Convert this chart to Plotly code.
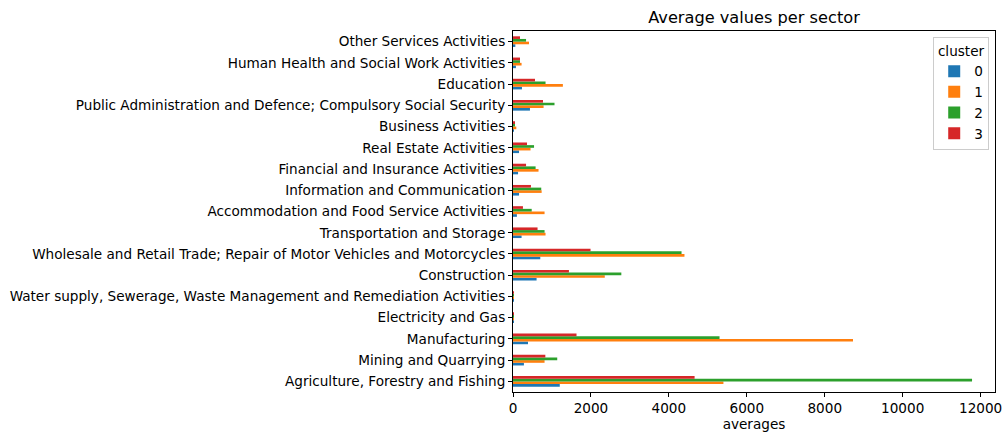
import plotly.graph_objects as go

sectors = [
    "Agriculture, Forestry and Fishing",
    "Mining and Quarrying",
    "Manufacturing",
    "Electricity and Gas",
    "Water supply, Sewerage, Waste Management and Remediation Activities",
    "Construction",
    "Wholesale and Retail Trade; Repair of Motor Vehicles and Motorcycles",
    "Transportation and Storage",
    "Accommodation and Food Service Activities",
    "Information and Communication",
    "Financial and Insurance Activities",
    "Real Estate Activities",
    "Business Activities",
    "Public Administration and Defence; Compulsory Social Security",
    "Education",
    "Human Health and Social Work Activities",
    "Other Services Activities",
]

cluster_0 = [1200, 280, 385, 2, 2, 605, 700, 220, 100, 155, 130, 155, 5, 435, 230, 75, 60]
cluster_1 = [5400, 810, 8725, 3, 3, 2355, 4400, 835, 810, 735, 655, 450, 85, 785, 1280, 220, 410]
cluster_2 = [11780, 1135, 5300, 2, 2, 2780, 4325, 810, 480, 725, 580, 540, 50, 1065, 835, 180, 335]
cluster_3 = [4660, 830, 1630, 2, 2, 1435, 1990, 630, 255, 460, 335, 360, 35, 770, 565, 180, 180]

cluster_names = ["0", "1", "2", "3"]
series = [cluster_0, cluster_1, cluster_2, cluster_3]
colors = ["#1f77b4", "#ff7f0e", "#2ca02c", "#d62728"]
x_ticks = [0, 2000, 4000, 6000, 8000, 10000, 12000]

FONT = "DejaVu Sans"
FS = 13.6

fig = go.Figure()
for name, vals, col in zip(cluster_names, series, colors):
    fig.add_trace(go.Bar(
        y=sectors, x=vals, name=name, orientation="h",
        marker=dict(color=col, line=dict(width=0)),
    ))

xmax = max(max(s) for s in series) * 1.05

fig.update_layout(
    width=1003, height=434,
    margin=dict(l=513, r=8, t=31, b=42, autoexpand=False),
    paper_bgcolor="white", plot_bgcolor="white",
    barmode="group", bargap=0.5, bargroupgap=0,
    font=dict(family=FONT, size=FS, color="black"),
    title=dict(text="Average values per sector", xref="paper", x=0.5, xanchor="center",
               yref="container", y=0.961, yanchor="middle",
               font=dict(size=16.2, family=FONT, color="black")),
    legend=dict(
        title=dict(text="cluster", side="top center", font=dict(size=FS)),
        x=0.988, xanchor="right", y=0.983, yanchor="top",
        bgcolor="rgba(255,255,255,0.8)", bordercolor="#cccccc", borderwidth=1,
        font=dict(size=FS), traceorder="normal",
        itemwidth=30, tracegroupgap=0,
    ),
    xaxis=dict(
        range=[0, xmax], tickvals=x_ticks, ticktext=[str(t) for t in x_ticks],
        showgrid=False, zeroline=False, showline=True, mirror=True, automargin=False,
        linecolor="black", linewidth=1, ticks="outside", ticklen=4, tickcolor="black",
        title=dict(text="averages", standoff=2, font=dict(size=FS)),
    ),
    yaxis=dict(
        categoryorder="array", categoryarray=sectors, automargin=False,
        range=[-0.5, len(sectors) - 0.5],
        showgrid=False, zeroline=False, showline=True, mirror=True,
        linecolor="black", linewidth=1, ticks="outside", ticklen=4, tickcolor="black",
    ),
)

fig.write_html(
    "out.html",
    config={"displayModeBar": False},
    post_script="document.body.style.margin='0';document.body.style.overflow='hidden';",
)
